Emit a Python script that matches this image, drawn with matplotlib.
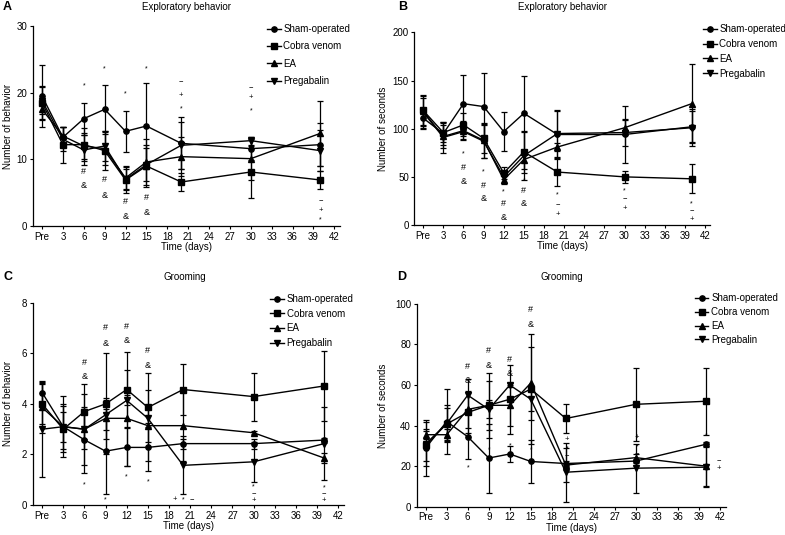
import numpy as np
import matplotlib
matplotlib.use('Agg')
import matplotlib.pyplot as plt
from matplotlib.lines import Line2D

plt.rcParams['font.family'] = ['Liberation Sans', 'DejaVu Sans']

days = [0, 3, 6, 9, 12, 15, 20, 30, 40]
groups = ['Sham-operated', 'Cobra venom', 'EA', 'Pregabalin']
markers = ['o', 's', '^', 'v']
xticks = list(range(0, 43, 3))
xticklabels = ['Pre'] + [str(t) for t in xticks[1:]]

# panel A: exploratory behavior, counts
a_mean = [
    [19.5, 13.3, 16.1, 17.5, 14.2, 15.0, 12.4, 11.6, 12.2],
    [18.5, 12.2, 12.2, 11.3, 6.9, 9.0, 6.6, 8.1, 6.9],
    [17.5, 13.5, 12.0, 11.6, 7.2, 9.6, 10.4, 10.1, 13.9],
    [18.8, 13.0, 11.4, 12.0, 7.0, 9.2, 12.1, 12.8, 11.3],
]
a_err = [
    [4.7, 1.5, 2.4, 3.7, 3.1, 6.4, 3.9, 1.7, 3.2],
    [2.5, 2.7, 2.5, 2.9, 2.0, 3.1, 1.3, 3.9, 1.4],
    [1.6, 1.4, 2.0, 2.5, 1.8, 3.5, 2.9, 3.2, 4.9],
    [2.0, 1.8, 2.2, 2.3, 1.5, 2.5, 3.5, 0.6, 3.1],
]
a_marks = [(6, 21.0, '*'), (6, 8.1, '#'), (6, 6.0, '&'),
           (9, 23.6, '*'), (9, 6.9, '#'), (9, 4.6, '&'),
           (12, 19.8, '*'), (12, 3.6, '#'), (12, 1.4, '&'),
           (15, 23.6, '*'), (15, 4.2, '#'), (15, 2.0, '&'),
           (20, 21.6, '\u2212'), (20, 19.6, '+'), (20, 17.6, '*'),
           (30, 20.7, '\u2212'), (30, 19.2, '+'), (30, 17.3, '*'),
           (40, 3.8, '\u2212'), (40, 2.3, '+'), (40, 0.9, '*')]

# panel B: exploratory behavior, seconds
b_mean = [
    [111, 95, 126, 123, 97, 116, 94, 94, 102],
    [119, 96, 104, 90, 54, 76, 55, 50, 48],
    [118, 92, 98, 88, 47, 68, 81, 101, 126],
    [117, 91, 97, 87, 50, 72, 95, 96, 101],
]
b_err = [
    [10, 12, 30, 35, 20, 39, 24, 30, 16],
    [16, 10, 12, 15, 6, 22, 14, 6, 15],
    [14, 12, 10, 18, 4, 10, 4, 8, 41],
    [17, 16, 8, 17, 6, 25, 24, 14, 19],
]
b_marks = [(6, 74, '*'), (6, 60, '#'), (6, 45, '&'),
           (9, 55, '*'), (9, 41, '#'), (9, 28, '&'),
           (12, 34, '*'), (12, 22, '#'), (12, 8, '&'),
           (15, 46, '*'), (15, 36, '#'), (15, 22, '&'),
           (20, 31, '*'), (20, 21, '\u2212'), (20, 11, '+'),
           (30, 35, '*'), (30, 27, '\u2212'), (30, 17, '+'),
           (40, 22, '*'), (40, 15, '\u2212'), (40, 6, '+')]

# panel C: grooming, counts
c_mean = [
    [4.45, 3.1, 2.58, 2.13, 2.28, 2.28, 2.43, 2.43, 2.57],
    [4.0, 3.0, 3.7, 4.0, 4.57, 3.86, 4.57, 4.29, 4.71],
    [3.86, 3.1, 3.0, 3.43, 3.43, 3.14, 3.14, 2.86, 1.86],
    [3.0, 3.1, 3.0, 3.57, 4.14, 3.43, 1.57, 1.71, 2.43],
]
c_err = [
    [0.37, 0.9, 1.3, 1.68, 0.75, 0.95, 0.2, 0.2, 0.1],
    [0.8, 0.9, 1.1, 2.0, 1.5, 1.35, 1.0, 0.95, 1.4],
    [1.0, 0.6, 0.8, 0.8, 1.9, 1.4, 1.4, 0.05, 0.2],
    [1.9, 1.2, 1.4, 0.6, 0.2, 0.35, 1.15, 0.8, 1.45],
]
c_marks = [(6, 5.64, '#'), (6, 5.07, '&'), (6, 0.8, '*'),
           (9, 7.03, '#'), (9, 6.4, '&'), (9, 0.2, '*'),
           (12, 7.07, '#'), (12, 6.5, '&'), (12, 1.1, '*'),
           (15, 6.1, '#'), (15, 5.53, '&'), (15, 0.9, '*'),
           (18.8, 0.2, '+'), (20, 0.2, '*'), (21.2, 0.2, '\u2212'),
           (30, 0.7, '*'), (30, 0.45, '\u2212'), (30, 0.18, '+'),
           (40, 0.68, '*'), (40, 0.45, '\u2212'), (40, 0.18, '+')]

# panel D: grooming, seconds
d_mean = [
    [29, 42, 34.5, 24, 26, 22.3, 21.3, 22.5, 30.8],
    [30.5, 40.8, 46.5, 50, 53, 58, 43.5, 50.5, 52],
    [35.5, 35.5, 48, 50, 50, 61, 20.5, 24.2, 20],
    [31, 41, 55, 48, 60, 53, 17, 19, 19.5],
]
d_err = [
    [14, 16, 11, 17, 4, 10.5, 1, 1, 1],
    [8, 8, 10, 16, 17, 27, 7, 18, 16.5],
    [2, 3, 9, 12, 10, 18, 8.5, 2, 10],
    [11, 9, 8, 4.5, 1, 6, 14.5, 12, 10],
]
d_marks = [(6, 69, '#'), (6, 62, '&'), (6, 19, '*'),
           (9, 76.8, '#'), (9, 69.6, '&'), (9, 28, '*'),
           (12, 72.4, '#'), (12, 65.5, '&'), (12, 30, '*'),
           (15, 97.5, '#'), (15, 90, '&'), (15, 28, '*'),
           (20.2, 32.9, '+'), (20.2, 28.3, '*'), (20.2, 25.2, '\u2212'),
           (30.2, 34, '+'), (30.2, 29.4, '*'), (30.2, 26, '\u2212'),
           (40, 34.7, '*'), (41.8, 22.7, '\u2212'), (41.8, 18.9, '+')]

sym_size = {'*': 5, '#': 6.5, '&': 6.5, '+': 5.5, '\u2212': 5.5}


def panel(ax, means, errs, marks, ymax, ystep, ylabel, ylab_x, leg_xy, leg_sp):
    for m, e, mk in zip(means, errs, markers):
        ax.errorbar(days, m, yerr=e, color='black', marker=mk, markersize=3.8,
                    lw=1, elinewidth=0.9, capsize=2.5, capthick=0.9)
    for x, y, s in marks:
        ax.text(x, y, s, ha='center', va='center', fontsize=sym_size[s])
    ax.set_xlim(-1.3, 42.8)
    ax.set_ylim(0, ymax)
    ax.set_xticks(xticks)
    ax.set_xticklabels(xticklabels)
    ax.set_yticks(np.arange(0, ymax + ystep / 2, ystep))
    for s in ['top', 'right']:
        ax.spines[s].set_visible(False)
    for s in ['left', 'bottom']:
        ax.spines[s].set_linewidth(0.9)
    ax.tick_params(labelsize=7, length=2.5, width=0.8, pad=1.5)
    ax.set_xlabel('Time (days)', fontsize=7, labelpad=0.5)
    ax.set_ylabel(ylabel, fontsize=7)
    ax.yaxis.set_label_coords(ylab_x, 0.5)
    handles = [Line2D([], [], color='black', lw=1, marker=mk, markersize=3.8)
               for mk in markers]
    ax.legend(handles, groups, loc='upper left', bbox_to_anchor=leg_xy,
              bbox_transform=fig.transFigure, frameon=False, fontsize=7,
              handlelength=1.4, handletextpad=0.3, borderpad=0,
              borderaxespad=0, labelspacing=leg_sp)


fig = plt.figure(figsize=(7.85, 5.35), dpi=100)
axA = fig.add_axes([0.042, 0.5776, 0.391, 0.3738])
axB = fig.add_axes([0.528, 0.5794, 0.377, 0.360])
axC = fig.add_axes([0.042, 0.056, 0.396, 0.378])
axD = fig.add_axes([0.5307, 0.0529, 0.3936, 0.379])

panel(axA, a_mean, a_err, a_marks, 30, 10, 'Number of behavior', -0.065, (0.340, 0.955), 0.75)
panel(axB, b_mean, b_err, b_marks, 200, 50, 'Number of seconds', -0.09, (0.8955, 0.955), 0.5)
panel(axC, c_mean, c_err, c_marks, 8, 2, 'Number of behavior', -0.064, (0.344, 0.4505), 0.48)
panel(axD, d_mean, d_err, d_marks, 100, 20, 'Number of seconds', -0.093, (0.885, 0.452), 0.4)

for lx, tx, y, letter, title in [(3, 187, 7, 'A', 'Exploratory behavior'),
                                 (398, 563, 7, 'B', 'Exploratory behavior'),
                                 (3, 185, 277, 'C', 'Grooming'),
                                 (397, 562, 277, 'D', 'Grooming')]:
    fig.text(lx / 785, 1 - y / 535, letter, fontsize=9, fontweight='bold', va='center', ha='left')
    fig.text(tx / 785, 1 - y / 535, title, fontsize=7, va='center', ha='center')

fig.savefig('out.png', dpi=100)
